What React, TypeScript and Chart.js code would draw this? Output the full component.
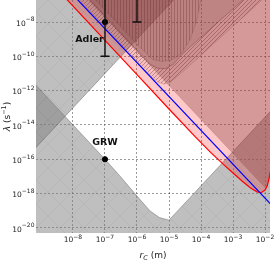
import React, { useEffect, useRef } from "react";
import { Chart, registerables } from "chart.js";
Chart.register(...registerables);

// ---- axis ranges / ticks (log10 units) ----
const xRangeExp = [-9.156, -1.844];
const yRangeExp = [-20.3, -6.717];
const xTickExps = [-8, -7, -6, -5, -4, -3, -2];
const yTickExps = [-8, -10, -12, -14, -16, -18, -20];

// ---- boundaries, as log10(rC) / log10(lambda) ----
// lower theoretical bound (gray, below)
const lowerU = [-9.5, -7.0, -6.5, -6.0, -5.6, -5.3, -5.0, -1.5];
const lowerV = [-11.0, -16.0, -17.05, -18.15, -19.0, -19.4, -19.55, -12.55];
// upper theoretical bound (gray, above)
const upperU = [-9.5, -4.5];
const upperV = [-16.0, -6.0];
// red bound
const redU = [-8.5, -7.0, -6.0, -5.0, -4.2, -3.7, -3.3, -3.0, -2.7, -2.45, -2.25, -2.12, -2.0, -1.93, -1.87, -1.82];
const redV = [-6.07, -9.07, -11.07, -13.07, -14.65, -15.6, -16.3, -16.8, -17.3, -17.68, -17.9, -17.95, -17.8, -17.55, -17.1, -16.6];
// blue bound
const blueU = [-8.0, -1.7];
const blueV = [-6.42, -18.86];
// rose excluded region (lower edge)
const roseU = [-7.6, -2.0, -1.93, -1.87, -1.82];
const roseV = [-6.55, -17.65, -17.55, -17.1, -16.6];
// hatched band, lower and upper edges
const bandLowU = [-8.0, -6.0, -5.6, -5.35, -5.15, -4.95, -4.656, -4.344, -2.094, -1.9];
const bandLowV = [-6.3, -10.3, -11.1, -11.5, -11.62, -11.5, -11.04, -10.51, -6.717, -6.4];
const bandHighU = [-7.6, -6.0, -5.6, -5.35, -5.1, -4.85, -4.656, -4.344, -2.69, -2.5];
const bandHighV = [-6.45, -9.65, -10.45, -10.7, -10.72, -10.45, -10.0, -9.46, -6.717, -6.4];
// vertical-hatch region
const vhU = [-7.5, -6.0, -5.5, -5.2, -4.9, -4.6, -4.344, -4.15, -4.0, -3.95];
const vhV = [-6.3, -9.3, -10.2, -10.3, -10.2, -9.8, -9.05, -8.0, -6.717, -6.4];
// data points
const grwR = [1e-7];
const grwLam = [1e-16];
const adlerR = [1e-7, 1e-6];
const adlerLam = [1e-8, 1e-6];
const adlerLow = [1e-10, 1e-8];
const adlerHigh = [1e-6, 1e-4];

const p10 = (e: number) => Math.pow(10, e);
const pts = (us: number[], vs: number[]) => us.map((u, i) => ({ x: p10(u), y: p10(vs[i]) }));

function makePattern(ctx: CanvasRenderingContext2D, kind: string, color: string, size: number, bg: string) {
  const c = document.createElement("canvas");
  c.width = size;
  c.height = size;
  const g = c.getContext("2d")!;
  g.fillStyle = bg;
  g.fillRect(0, 0, size, size);
  g.strokeStyle = color;
  g.lineWidth = 1;
  g.beginPath();
  if (kind === "vert") {
    g.moveTo(0.5, 0);
    g.lineTo(0.5, size);
  } else if (kind === "cross") {
    g.moveTo(-1, size + 1);
    g.lineTo(size + 1, -1);
    g.moveTo(-1, -1);
    g.lineTo(size + 1, size + 1);
  } else {
    g.moveTo(-1, size + 1);
    g.lineTo(size + 1, -1);
    g.moveTo(-1, 1);
    g.lineTo(1, -1);
    g.moveTo(size - 1, size + 1);
    g.lineTo(size + 1, size - 1);
  }
  g.stroke();
  return ctx.createPattern(c, "repeat")!;
}

const FONT = "'DejaVu Sans', 'Liberation Sans', sans-serif";

export default function App() {
  const ref = useRef<HTMLCanvasElement>(null);
  useEffect(() => {
    const canvas = ref.current!;
    const ctx = canvas.getContext("2d")!;
    const diag = makePattern(ctx, "diag", "rgba(110,45,45,0.4)", 4, "rgba(140,70,70,0.08)");
    const vert = makePattern(ctx, "vert", "rgba(100,40,40,0.3)", 3, "rgba(140,70,70,0.06)");
    const grayHatch = makePattern(ctx, "cross", "rgba(80,80,80,0.07)", 24, "rgba(128,128,128,0.5)");

    const grayEdge = "rgba(90,90,90,0.55)";
    const layers: any[] = [
      { data: pts(lowerU, lowerV), fill: "start", backgroundColor: grayHatch, borderColor: grayEdge, borderWidth: 0.8 },
      { data: pts(upperU, upperV), fill: "end", backgroundColor: grayHatch, borderColor: grayEdge, borderWidth: 0.8 },
      { data: pts(redU, redV), fill: "end", backgroundColor: "rgba(255,0,0,0.21)", borderColor: "rgba(0,0,0,0)", borderWidth: 1 },
      { data: pts(roseU, roseV), fill: "end", backgroundColor: "rgba(140,70,70,0.37)", borderColor: "rgba(120,60,60,0.3)", borderWidth: 0.6 },
      { data: pts(bandHighU, bandHighV), fill: "end", backgroundColor: "rgba(110,55,55,0.22)", borderColor: "rgba(110,50,50,0.35)", borderWidth: 0.6 },
      {
        data: [...pts(bandLowU, bandLowV), ...pts(bandHighU, bandHighV).reverse()],
        fill: "shape",
        backgroundColor: diag,
        borderColor: "rgba(110,50,50,0.35)",
        borderWidth: 0.6,
      },
      { data: pts(vhU, vhV), fill: "end", backgroundColor: vert, borderColor: "rgba(110,50,50,0.3)", borderWidth: 0.6 },
      { data: pts(redU, redV), fill: false, borderColor: "rgb(255,0,0)", borderWidth: 1.2 },
      { data: pts(blueU, blueV), fill: false, borderColor: "rgb(0,0,255)", borderWidth: 1.2 },
      {
        data: [...adlerR.map((r, i) => ({ x: r, y: adlerLam[i] })), ...grwR.map((r, i) => ({ x: r, y: grwLam[i] }))],
        showLine: false,
        pointRadius: 2.6,
        pointBackgroundColor: "#000",
        pointBorderColor: "#000",
      },
    ];
    const datasets = layers.map((d, i) => ({
      showLine: true,
      pointRadius: 0,
      tension: 0,
      ...d,
      order: 100 - i,
    }));

    const overlay = {
      id: "overlay",
      afterDraw(chart: any) {
        const { ctx: c, chartArea: a, scales } = chart;
        const xs = scales.x;
        const ys = scales.y;
        c.save();
        c.beginPath();
        c.rect(a.left, a.top, a.right - a.left, a.bottom - a.top);
        c.clip();
        c.strokeStyle = "#111";
        c.lineWidth = 1.4;
        adlerR.forEach((r, i) => {
          const px = xs.getPixelForValue(r);
          const y1 = ys.getPixelForValue(adlerLow[i]);
          const y2 = ys.getPixelForValue(adlerHigh[i]);
          c.beginPath();
          c.moveTo(px, y1);
          c.lineTo(px, y2);
          c.moveTo(px - 4.5, y1);
          c.lineTo(px + 4.5, y1);
          c.moveTo(px - 4.5, y2);
          c.lineTo(px + 4.5, y2);
          c.stroke();
        });
        c.fillStyle = "#111";
        c.font = `bold 9.5px ${FONT}`;
        c.textAlign = "center";
        c.textBaseline = "middle";
        c.fillText("Adler", xs.getPixelForValue(adlerR[0]) - 15.5, ys.getPixelForValue(adlerLam[0]) + 18);
        c.fillText("GRW", xs.getPixelForValue(grwR[0]), ys.getPixelForValue(grwLam[0]) - 16.5);
        c.restore();

        // tick labels: 10 with superscript exponent
        c.save();
        c.fillStyle = "#222";
        c.textBaseline = "alphabetic";
        c.textAlign = "left";
        const baseFont = `7.5px ${FONT}`;
        const expFont = `6px ${FONT}`;
        const expText = (e: number) => (e < 0 ? "−" : "") + String(Math.abs(e));
        xTickExps.forEach((e) => {
          const px = xs.getPixelForValue(p10(e));
          c.font = baseFont;
          const wb = c.measureText("10").width;
          c.font = expFont;
          const we = c.measureText(expText(e)).width;
          const x0 = px - (wb + we) / 2;
          c.font = baseFont;
          c.fillText("10", x0, a.bottom + 9.3);
          c.font = expFont;
          c.fillText(expText(e), x0 + wb, a.bottom + 5.8);
        });
        yTickExps.forEach((e) => {
          const py = ys.getPixelForValue(p10(e));
          c.font = baseFont;
          const wb = c.measureText("10").width;
          c.font = expFont;
          const we = c.measureText(expText(e)).width;
          const x0 = a.left - 1.5 - (wb + we);
          c.font = baseFont;
          c.fillText("10", x0, py + 3.8);
          c.font = expFont;
          c.fillText(expText(e), x0 + wb, py - 0.6);
        });

        // x title
        const cx = (a.left + a.right) / 2;
        const by = 258;
        c.font = `italic 9px ${FONT}`;
        const wr = c.measureText("r").width;
        c.font = `italic 6.5px ${FONT}`;
        const wc = c.measureText("C").width;
        c.font = `9px ${FONT}`;
        const wm = c.measureText(" (m)").width;
        let sx = cx - (wr + wc + wm) / 2;
        c.font = `italic 9px ${FONT}`;
        c.fillText("r", sx, by);
        c.font = `italic 6.5px ${FONT}`;
        c.fillText("C", sx + wr, by + 2);
        c.font = `9px ${FONT}`;
        c.fillText(" (m)", sx + wr + wc, by);
        // y title
        c.translate(10, (a.top + a.bottom) / 2);
        c.rotate(-Math.PI / 2);
        c.font = `italic 9px ${FONT}`;
        const wl = c.measureText("λ").width;
        c.font = `9px ${FONT}`;
        const ws = c.measureText(" (s").width;
        c.font = `6.5px ${FONT}`;
        const we = c.measureText("−1").width;
        c.font = `9px ${FONT}`;
        const wp = c.measureText(")").width;
        sx = -(wl + ws + we + wp) / 2;
        c.font = `italic 9px ${FONT}`;
        c.fillText("λ", sx, 0);
        c.font = `9px ${FONT}`;
        c.fillText(" (s", sx + wl, 0);
        c.font = `6.5px ${FONT}`;
        c.fillText("−1", sx + wl + ws, -4);
        c.font = `9px ${FONT}`;
        c.fillText(")", sx + wl + ws + we, 0);
        c.restore();
      },
    };

    const gridCfg = { color: "rgba(70,70,70,0.55)", lineWidth: 1, drawTicks: false };
    const chart = new Chart(ctx, {
      type: "scatter",
      data: { datasets },
      plugins: [overlay],
      options: {
        responsive: false,
        animation: false,
        events: [],
        layout: { autoPadding: false, padding: { left: 0, right: 4, top: 0, bottom: 0 } },
        plugins: { legend: { display: false }, tooltip: { enabled: false } },
        scales: {
          x: {
            type: "logarithmic",
            min: p10(xRangeExp[0]),
            max: p10(xRangeExp[1]),
            z: 1,
            grid: gridCfg,
            border: { display: false, dash: [2, 2] },
            afterBuildTicks: (s: any) => {
              s.ticks = xTickExps.map((e) => ({ value: p10(e) }));
            },
            afterFit: (s: any) => {
              s.height = 27;
              s.paddingLeft = 0;
              s.paddingRight = 0;
            },
            ticks: { display: false, autoSkip: false },
          },
          y: {
            type: "logarithmic",
            min: p10(yRangeExp[0]),
            max: p10(yRangeExp[1]),
            z: 1,
            grid: gridCfg,
            border: { display: false, dash: [2, 2] },
            afterBuildTicks: (s: any) => {
              s.ticks = yTickExps.map((e) => ({ value: p10(e) }));
            },
            afterFit: (s: any) => {
              s.width = 36;
              s.paddingTop = 0;
              s.paddingBottom = 0;
            },
            ticks: { display: false, autoSkip: false },
          },
        },
      } as any,
    });
    return () => chart.destroy();
  }, []);
  return (
    <div style={{ position: "fixed", left: 0, top: 0, width: 274, height: 260, background: "#fff" }}>
      <canvas ref={ref} width={274} height={260} style={{ display: "block", width: 274, height: 260 }} />
    </div>
  );
}
